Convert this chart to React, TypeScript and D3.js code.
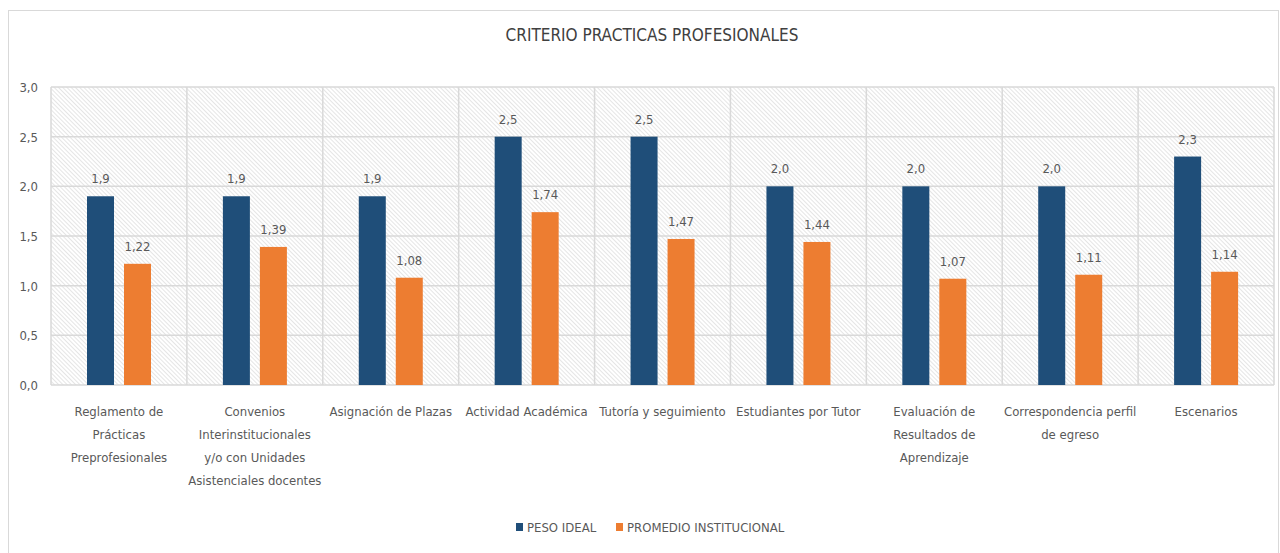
import React, { useEffect, useRef } from "react"
import * as d3 from "d3"

const categories = [
  ["Reglamento de", "Prácticas", "Preprofesionales"],
  ["Convenios", "Interinstitucionales", "y/o con Unidades", "Asistenciales docentes"],
  ["Asignación de Plazas"],
  ["Actividad Académica"],
  ["Tutoría y seguimiento"],
  ["Estudiantes por Tutor"],
  ["Evaluación de", "Resultados de", "Aprendizaje"],
  ["Correspondencia perfil", "de egreso"],
  ["Escenarios"],
]
const pesoIdeal = [1.9, 1.9, 1.9, 2.5, 2.5, 2.0, 2.0, 2.0, 2.3]
const promedio = [1.22, 1.39, 1.08, 1.74, 1.47, 1.44, 1.07, 1.11, 1.14]
const yTicks = [0, 0.5, 1, 1.5, 2, 2.5, 3]
const seriesNames = ["PESO IDEAL", "PROMEDIO INSTITUCIONAL"]
const colors = ["#1f4e79", "#ed7d31"]

const FONT = "'DejaVu Sans Condensed', 'DejaVu Sans', sans-serif"
const TEXT = "#595959"

export default function App() {
  const ref = useRef<SVGSVGElement>(null)

  useEffect(() => {
    const svg = d3.select(ref.current)
    svg.selectAll("*").remove()

    const left = 51, right = 1274, top = 87, bottom = 385

    // hatch pattern for plot background
    const defs = svg.append("defs")
    const pat = defs.append("pattern")
      .attr("id", "hatch")
      .attr("patternUnits", "userSpaceOnUse")
      .attr("width", 3)
      .attr("height", 3)
      .attr("patternTransform", "rotate(-45)")
    pat.append("rect").attr("width", 3).attr("height", 3).attr("fill", "#ffffff")
    pat.append("line")
      .attr("x1", 0).attr("y1", 0).attr("x2", 0).attr("y2", 3)
      .attr("stroke", "#d4d4d4").attr("stroke-width", 1.2)

    // outer frame
    svg.append("rect")
      .attr("x", 8.5).attr("y", 10.5)
      .attr("width", 1270).attr("height", 550)
      .attr("fill", "#fff").attr("stroke", "#d9d9d9")

    const x = d3.scaleBand<number>()
      .domain(d3.range(categories.length))
      .range([left, right])
      .padding(0)
    const inner = d3.scaleBand<number>()
      .domain([0, 1])
      .range([36, 100])
      .paddingInner(0.27)
      .paddingOuter(0)
    const y = d3.scaleLinear().domain([0, 3]).range([bottom, top])

    svg.append("rect")
      .attr("x", left).attr("y", top)
      .attr("width", right - left).attr("height", bottom - top)
      .attr("fill", "url(#hatch)")

    // gridlines
    svg.append("g").selectAll("line")
      .data(yTicks)
      .enter()
      .append("line")
      .attr("x1", left).attr("x2", right)
      .attr("y1", d => y(d)).attr("y2", d => y(d))
      .attr("stroke", "#d9d9d9").attr("stroke-width", 1.5)

    const vlines = d3.range(categories.length + 1).map(i => left + i * x.step())
    svg.append("g").selectAll("line")
      .data(vlines)
      .enter()
      .append("line")
      .attr("x1", d => d).attr("x2", d => d)
      .attr("y1", top).attr("y2", bottom)
      .attr("stroke", "#d9d9d9").attr("stroke-width", 1.5)

    // y labels
    svg.append("g").selectAll("text")
      .data(yTicks)
      .enter()
      .append("text")
      .attr("x", 38)
      .attr("y", d => y(d) + 5)
      .attr("text-anchor", "end")
      .attr("font-family", FONT)
      .attr("font-size", 13)
      .attr("fill", TEXT)
      .text(d => d3.format(".1f")(d).replace(".", ","))

    // bars
    const series = [pesoIdeal, promedio]
    series.forEach((vals, s) => {
      const g = svg.append("g")
      g.selectAll("rect")
        .data(vals)
        .enter()
        .append("rect")
        .attr("x", (d, i) => (x(i) as number) + (inner(s) as number))
        .attr("y", d => y(d))
        .attr("width", inner.bandwidth())
        .attr("height", d => bottom - y(d))
        .attr("fill", colors[s])
      g.selectAll("text")
        .data(vals)
        .enter()
        .append("text")
        .attr("x", (d, i) => (x(i) as number) + (inner(s) as number) + inner.bandwidth() / 2)
        .attr("y", d => y(d) - 13)
        .attr("text-anchor", "middle")
        .attr("font-family", FONT)
        .attr("font-size", 13)
        .attr("fill", TEXT)
        .text(d => (s === 0 ? d3.format(".1f")(d) : d3.format(".2f")(d)).replace(".", ","))
    })

    // category labels
    const cat = svg.append("g").selectAll("text")
      .data(categories)
      .enter()
      .append("text")
      .attr("text-anchor", "middle")
      .attr("font-family", FONT)
      .attr("font-size", 13)
      .attr("fill", TEXT)
    cat.each(function (lines, i) {
      const t = d3.select(this)
      lines.forEach((ln, k) => {
        t.append("tspan")
          .attr("x", (x(i) as number) + x.bandwidth() / 2)
          .attr("y", 416 + k * 23)
          .text(ln)
      })
    })

    // title
    svg.append("text")
      .attr("x", 652).attr("y", 41)
      .attr("text-anchor", "middle")
      .attr("font-family", FONT)
      .attr("font-size", 17)
      .attr("fill", "#404040")
      .text("CRITERIO PRACTICAS PROFESIONALES")

    // legend
    const legendX = [516, 616]
    seriesNames.forEach((name, s) => {
      svg.append("rect")
        .attr("x", legendX[s]).attr("y", 523)
        .attr("width", 7).attr("height", 8)
        .attr("fill", colors[s])
      svg.append("text")
        .attr("x", legendX[s] + 11).attr("y", 532)
        .attr("font-family", FONT)
        .attr("font-size", 13)
        .attr("fill", TEXT)
        .text(name)
    })
  }, [])

  return (
    <svg ref={ref} width={1280} height={553} style={{ position: "absolute", left: 0, top: 0 }} />
  )
}
